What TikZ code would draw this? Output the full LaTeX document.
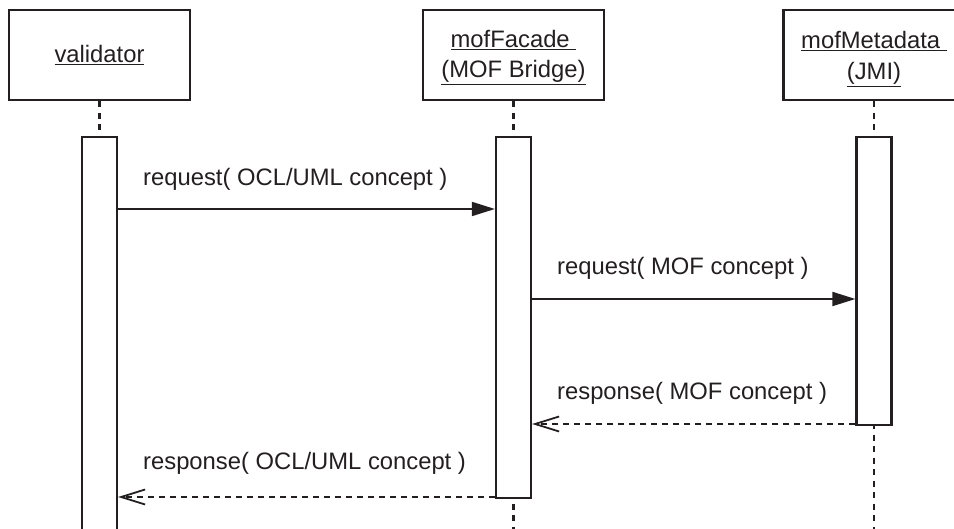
\documentclass[tikz,border=0pt]{standalone}
\usepackage{fontspec}
\setmainfont{Liberation Sans}
\usetikzlibrary{arrows.meta}
\definecolor{ink}{HTML}{231F20}
\begin{document}
\begin{tikzpicture}[x=1pt,y=-1pt,
  every node/.style={font=\fontsize{23.8}{30}\selectfont, text=ink},
  objbox/.style={draw=ink, line width=2.2pt, minimum width=181pt, minimum height=90pt, inner sep=0pt},
  objname/.style={anchor=base, inner sep=0pt},
  actbar/.style={draw=ink, fill=white, line width=2.2pt, minimum width=35pt, inner sep=0pt, anchor=north},
  lifeline/.style={draw=ink, line width=2.2pt, dash pattern=on 6pt off 5.5pt},
  callmsg/.style={draw=ink, line width=1.8pt, -{Triangle[length=23pt,width=14pt]}},
  replymsg/.style={draw=ink, line width=1.8pt, dash pattern=on 6pt off 5pt,
    -{Straight Barb[length=24pt,width=15pt,line width=1.8pt]}},
  msglabel/.style={anchor=base west, inner sep=0pt}]
\useasboundingbox (0,0) rectangle (954,529);

% object boxes
\node[objbox] (val)  at (99.5,55) {};
\node[objbox] (fac)  at (513.5,55) {};
\node[objbox] (meta) at (874,55) {};

% object names
\node[objname] (valName)   at (99.5,63)  {\underline{validator}};
\node[objname] (facName)   at (513.5,48) {\underline{mofFacade\ }};
\node[objname] (facRole)   at (513.5,78) {\underline{(MOF Bridge)}};
\node[objname] (metaName)  at (874,49)   {\underline{mofMetadata\ }};
\node[objname] (metaRole)  at (874,80)   {\underline{(JMI)}};

\coordinate (bottom) at (0,529);

% lifelines
\draw[lifeline] (val.south) -- (val.south |- bottom);
\draw[lifeline] (fac.south) -- (fac.south |- bottom);
\draw[lifeline] (meta.south) -- (meta.south |- bottom);

% activation bars
\node[actbar, minimum height=410pt] (valBar)  at (99.5,136) {};
\node[actbar, minimum height=361pt] (facBar)  at (513.5,136) {};
\node[actbar, minimum height=288pt] (metaBar) at (874,136) {};

% message rows
\coordinate (m1) at (0,209);
\coordinate (m2) at (0,299);
\coordinate (m3) at (0,424);
\coordinate (m4) at (0,497);

\draw[callmsg]  (valBar.east |- m1)  -- (facBar.west |- m1);
\draw[callmsg]  (facBar.east |- m2)  -- (metaBar.west |- m2);
\draw[replymsg] (metaBar.west |- m3) -- (facBar.east |- m3);
\draw[replymsg] (facBar.west |- m4)  -- (valBar.east |- m4);

% message labels
\node[msglabel] (l1) at (143,186) {request( OCL/UML concept )};
\node[msglabel] (l2) at (557,275) {request( MOF concept )};
\node[msglabel] (l3) at (557,400) {response( MOF concept )};
\node[msglabel] (l4) at (143,470) {response( OCL/UML concept )};
\end{tikzpicture}
\end{document}
